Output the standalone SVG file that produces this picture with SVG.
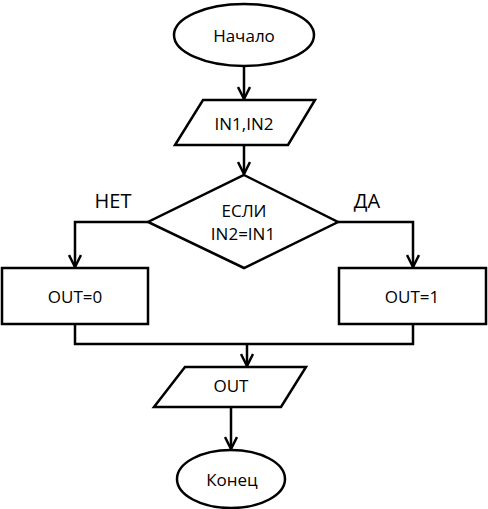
<svg xmlns="http://www.w3.org/2000/svg" width="488" height="509" viewBox="0 0 488 509">
<style>
.s{fill:#fff;stroke:#000;stroke-width:2.5}
.t{font-family:"Open Sans","Noto Sans",sans-serif;font-size:17px;fill:#000;text-anchor:middle}
.l{font-size:20px}
.c{fill:none;stroke:#000;stroke-width:2.5}
</style>
<defs>
<marker id="a" viewBox="0 0 14 14" refX="13" refY="7" markerWidth="14" markerHeight="14" markerUnits="userSpaceOnUse" orient="auto">
<path d="M1,1 L13,7 L1,13" fill="none" stroke="#000" stroke-width="2.5"/>
</marker>
</defs>
<g id="connectors">
<path class="c" d="M244,66 L244,99" marker-end="url(#a)"/>
<path class="c" d="M244,145 L244,174" marker-end="url(#a)"/>
<path class="c" d="M148,222 L75,222 L75,267" marker-end="url(#a)"/>
<path class="c" d="M338,222 L413,222 L413,267" marker-end="url(#a)"/>
<path class="c" d="M75,324 L75,344 L413,344 L413,324"/>
<path class="c" d="M247,344 L247,366" marker-end="url(#a)"/>
<path class="c" d="M231,407 L231,449" marker-end="url(#a)"/>
</g>
<g id="start">
<ellipse class="s" cx="244" cy="35" rx="70" ry="31"/>
<text class="t" x="244" y="42">Начало</text>
</g>
<g id="input">
<polygon class="s" points="203,100 315,100 288,145 175,145"/>
<text class="t" x="244" y="130">IN1,IN2</text>
</g>
<g id="decision">
<polygon class="s" points="244,175 338,222 244,268 148,222"/>
<text class="t" x="244" y="217">ЕСЛИ</text>
<text class="t" x="243" y="240">IN2=IN1</text>
</g>
<g id="label-no"><text class="t l" x="113" y="208">НЕТ</text></g>
<g id="label-yes"><text class="t l" x="367" y="208">ДА</text></g>
<g id="out0">
<rect class="s" x="2" y="268" width="146" height="56"/>
<text class="t" x="75" y="303">OUT=0</text>
</g>
<g id="out1">
<rect class="s" x="339" y="268" width="147" height="56"/>
<text class="t" x="412" y="303">OUT=1</text>
</g>
<g id="output">
<polygon class="s" points="185,367 306,367 281,407 154,407"/>
<text class="t" x="231" y="392">OUT</text>
</g>
<g id="end">
<ellipse class="s" cx="231" cy="479" rx="54" ry="29"/>
<text class="t" x="232" y="486">Конец</text>
</g>
</svg>
